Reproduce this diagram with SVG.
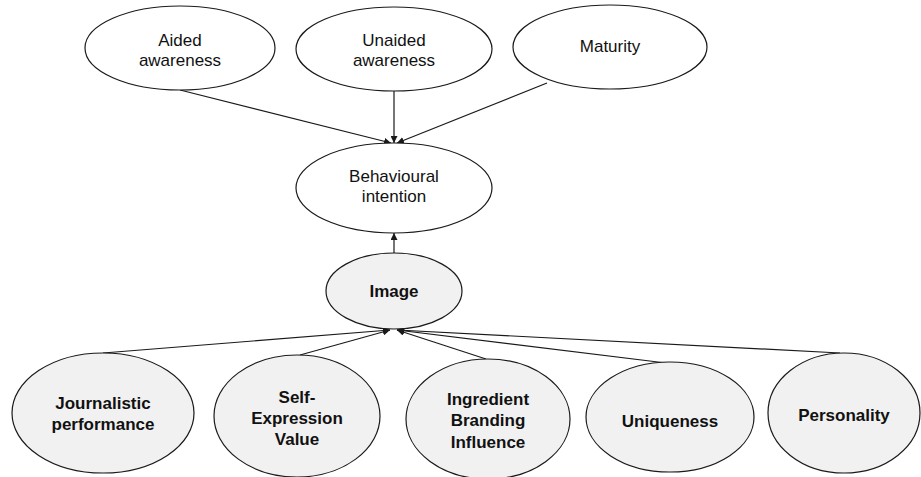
<svg xmlns="http://www.w3.org/2000/svg" width="921" height="477" viewBox="0 0 921 477">
<style>
  .n ellipse { stroke:#1a1a1a; stroke-width:1.2; }
  .w ellipse { fill:#ffffff; }
  .g ellipse { fill:#f1f1f1; }
  text { font-family:"Liberation Sans", Arial, sans-serif; font-size:17px; fill:#111; text-anchor:middle; }
  .g text { font-weight:bold; }
  #edges line { stroke:#1a1a1a; stroke-width:1.2; marker-end:url(#ah); }
</style>
<defs>
  <marker id="ah" viewBox="0 0 10 10" refX="10" refY="5" markerWidth="7" markerHeight="7" markerUnits="userSpaceOnUse" orient="auto">
    <path d="M0,0 L10,5 L0,10 z" fill="#1a1a1a"/>
  </marker>
</defs>
<rect width="921" height="477" fill="#ffffff"/>
<g id="edges">
  <line x1="180" y1="90" x2="391" y2="143"/>
  <line x1="394" y1="91" x2="394" y2="143"/>
  <line x1="547" y1="83" x2="397" y2="143"/>
  <line x1="394" y1="253" x2="394" y2="233"/>
  <line x1="103" y1="353" x2="390" y2="330"/>
  <line x1="300" y1="355" x2="390" y2="330"/>
  <line x1="486" y1="359" x2="397" y2="330"/>
  <line x1="666" y1="363" x2="397" y2="330"/>
  <line x1="840" y1="353" x2="397" y2="330"/>
</g>
<g id="aided" class="n w">
  <ellipse cx="180" cy="48" rx="95" ry="42"/>
  <text x="180" y="46">Aided</text>
  <text x="180" y="66">awareness</text>
</g>
<g id="unaided" class="n w">
  <ellipse cx="394" cy="49" rx="98" ry="42"/>
  <text x="394" y="46">Unaided</text>
  <text x="394" y="66">awareness</text>
</g>
<g id="maturity" class="n w">
  <ellipse cx="610" cy="47" rx="97" ry="42"/>
  <text x="610" y="52">Maturity</text>
</g>
<g id="behavioural" class="n w">
  <ellipse cx="394" cy="188" rx="98" ry="45"/>
  <text x="394" y="182">Behavioural</text>
  <text x="394" y="202">intention</text>
</g>
<g id="image" class="n g">
  <ellipse cx="394" cy="291" rx="68" ry="38"/>
  <text x="394" y="297">Image</text>
</g>
<g id="journalistic" class="n g">
  <ellipse cx="103" cy="413" rx="91" ry="60"/>
  <text x="103" y="409">Journalistic</text>
  <text x="103" y="430">performance</text>
</g>
<g id="selfexpression" class="n g">
  <ellipse cx="297" cy="416" rx="83" ry="61"/>
  <text x="297" y="403">Self-</text>
  <text x="297" y="424">Expression</text>
  <text x="297" y="445">Value</text>
</g>
<g id="ingredient" class="n g">
  <ellipse cx="488" cy="419" rx="82" ry="60"/>
  <text x="488" y="405">Ingredient</text>
  <text x="488" y="426">Branding</text>
  <text x="488" y="448">Influence</text>
</g>
<g id="uniqueness" class="n g">
  <ellipse cx="670" cy="417" rx="84" ry="55"/>
  <text x="670" y="427">Uniqueness</text>
</g>
<g id="personality" class="n g">
  <ellipse cx="844" cy="413" rx="76" ry="60"/>
  <text x="844" y="421">Personality</text>
</g>
</svg>
